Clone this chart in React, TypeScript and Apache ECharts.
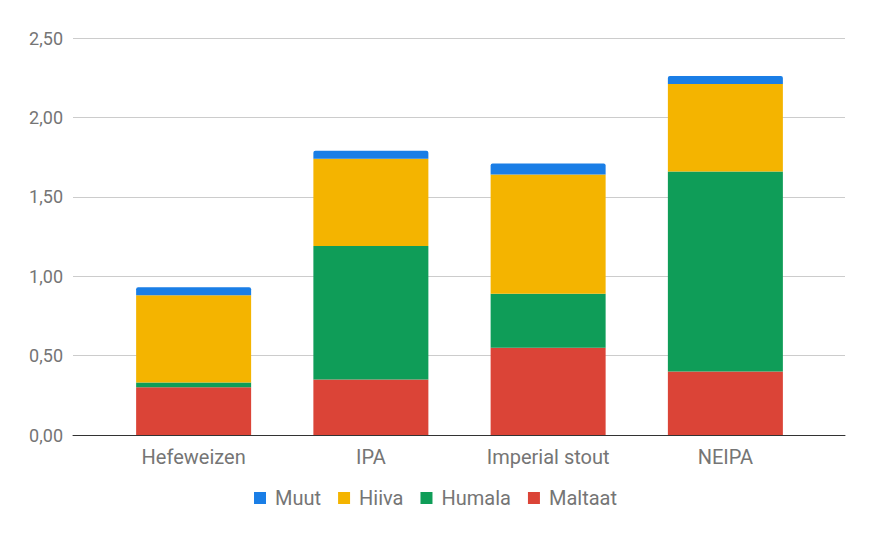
import React, { useEffect, useRef } from "react";
import * as echarts from "echarts";

const categories = ["Hefeweizen", "IPA", "Imperial stout", "NEIPA"];
const maltaat = [0.30, 0.35, 0.55, 0.40];
const humala = [0.03, 0.84, 0.34, 1.26];
const hiiva = [0.55, 0.55, 0.75, 0.55];
const muut = [0.05, 0.05, 0.07, 0.05];
const legendOrder = ["Muut", "Hiiva", "Humala", "Maltaat"];

const FONT = "Roboto";
const TEXT = "#757575";

export default function App() {
  const ref = useRef<HTMLDivElement>(null);
  useEffect(() => {
    if (!ref.current) return;
    const chart = echarts.init(ref.current, null, { renderer: "svg" });
    const mk = (name: string, data: number[], color: string, top = false) => ({
      name,
      type: "bar",
      stack: "total",
      xAxisIndex: 1,
      yAxisIndex: 1,
      barWidth: 115,
      data,
      itemStyle: { color, borderRadius: top ? [2, 2, 0, 0] : 0 },
    });
    chart.setOption({
      animation: false,
      textStyle: { fontFamily: FONT },
      legend: {
        data: legendOrder,
        top: 483,
        left: "center",
        icon: "rect",
        itemWidth: 12,
        itemHeight: 12,
        itemGap: 17,
        textStyle: { color: TEXT, fontSize: 20, fontFamily: FONT, padding: [0, 0, 0, 4] },
      },
      grid: [
        { left: 73, right: 26, top: 38, bottom: 103 },
        { left: 105, right: 57, top: 38, bottom: 103 },
      ],
      xAxis: [
        {
          type: "value",
          gridIndex: 0,
          min: 0,
          max: 1,
          axisLine: { show: true, lineStyle: { color: "#333333", width: 1 } },
          axisTick: { show: false },
          axisLabel: { show: false },
          splitLine: { show: false },
        },
        {
          type: "category",
          gridIndex: 1,
          data: categories,
          axisLine: { show: false },
          axisTick: { show: false },
          axisLabel: { color: TEXT, fontSize: 20, fontFamily: FONT, margin: 12 },
        },
      ],
      yAxis: [
        {
          type: "value",
          gridIndex: 0,
          min: 0,
          max: 2.5,
          interval: 0.5,
          axisLine: { show: false },
          axisTick: { show: false },
          axisLabel: {
            color: TEXT,
            fontSize: 18,
            fontFamily: FONT,
            margin: 10,
            formatter: (v: number) => v.toFixed(2).replace(".", ","),
          },
          splitLine: { lineStyle: { color: "#cccccc", width: 1 } },
        },
        {
          type: "value",
          gridIndex: 1,
          min: 0,
          max: 2.5,
          show: false,
          splitLine: { show: false },
        },
      ],
      series: [
        mk("Maltaat", maltaat, "#DB4437"),
        mk("Humala", humala, "#0F9D58"),
        mk("Hiiva", hiiva, "#F4B400"),
        mk("Muut", muut, "#1A7EE6", true),
      ],
    });
    return () => chart.dispose();
  }, []);
  return (
    <div
      ref={ref}
      style={{ position: "fixed", left: 0, top: 0, width: 871, height: 538, background: "#fff" }}
    />
  );
}
